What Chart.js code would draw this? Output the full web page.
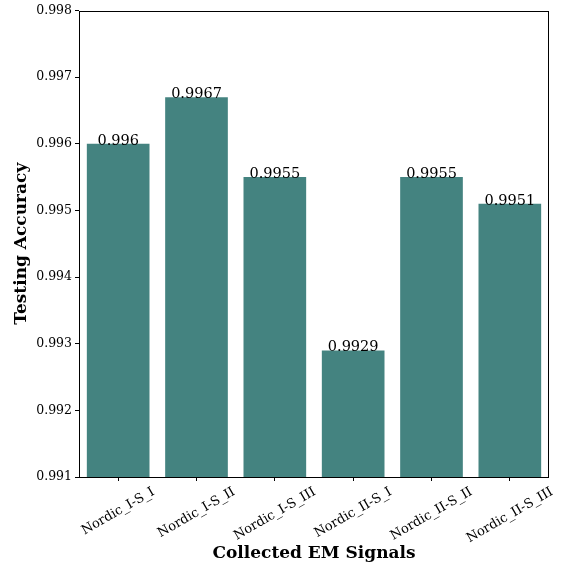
<!DOCTYPE html>
<html>
<head>
<meta charset="utf-8">
<script src="https://cdn.jsdelivr.net/npm/chart.js@4"></script>
<style>
    html, body { margin: 0; padding: 0; background: #fff; }
    #wrap { width: 564px; height: 568px; position: relative; }
</style>
</head>
<body>
<div id="wrap"><canvas id="accChart" width="564" height="568"></canvas></div>
<script>
// datos del gráfico
const categorias = ['Nordic_I-S_I', 'Nordic_I-S_II', 'Nordic_I-S_III', 'Nordic_II-S_I', 'Nordic_II-S_II', 'Nordic_II-S_III'];
const precision = [0.996, 0.9967, 0.9955, 0.9929, 0.9955, 0.9951];
const etiquetas = ['0.996', '0.9967', '0.9955', '0.9929', '0.9955', '0.9951'];
const yMin = 0.991;
const yMax = 0.998;
const yPaso = 0.001;

const SERIF = '"DejaVu Serif", serif';

// plugin: marco, etiquetas de barras, etiquetas x rotadas y títulos de ejes
const decoracion = {
    id: 'decoracion',
    afterDraw(chart) {
        const ctx = chart.ctx;
        const area = chart.chartArea;
        const xScale = chart.scales.x;
        const meta = chart.getDatasetMeta(0);

        ctx.save();
        // marco completo
        ctx.strokeStyle = '#000';
        ctx.lineWidth = 1;
        ctx.strokeRect(Math.round(area.left) + 0.5, Math.round(area.top) + 0.5,
            Math.round(area.right - area.left) - 1, Math.round(area.bottom - area.top) - 1);

        // valores encima de las barras
        ctx.fillStyle = '#000';
        ctx.font = '14.5px ' + SERIF;
        ctx.textAlign = 'center';
        ctx.textBaseline = 'alphabetic';
        meta.data.forEach((bar, i) => {
            ctx.fillText(etiquetas[i], bar.x, bar.y + 1);
        });

        // etiquetas x rotadas 30° centradas en el tick
        ctx.font = '13px ' + SERIF;
        ctx.textAlign = 'center';
        ctx.textBaseline = 'middle';
        categorias.forEach((c, i) => {
            const x = xScale.getPixelForTick(i);
            const w = ctx.measureText(c).width;
            const cy = area.bottom + 8 + (w / 2) * Math.sin(Math.PI / 6) + 6;
            ctx.save();
            ctx.translate(x, cy);
            ctx.rotate(-Math.PI / 6);
            ctx.fillText(c, 0, 0);
            ctx.restore();
        });

        // títulos de los ejes
        ctx.font = 'bold 17px ' + SERIF;
        ctx.textAlign = 'center';
        ctx.textBaseline = 'middle';
        ctx.fillText('Collected EM Signals', (area.left + area.right) / 2, 554);
        ctx.save();
        ctx.translate(22, (area.top + area.bottom) / 2);
        ctx.rotate(-Math.PI / 2);
        ctx.fillText('Testing Accuracy', 0, 0);
        ctx.restore();
        ctx.restore();
    }
};

new Chart(document.getElementById('accChart'), {
    type: 'bar',
    data: {
        labels: categorias,
        datasets: [{
            data: precision,
            backgroundColor: '#448380',
            borderWidth: 0,
            categoryPercentage: 1.0,
            barPercentage: 0.8
        }]
    },
    options: {
        responsive: false,
        maintainAspectRatio: false,
        animation: false,
        devicePixelRatio: 1,
        layout: { padding: { top: 10, right: 15, left: 0, bottom: 0 } },
        plugins: {
            legend: { display: false },
            tooltip: { enabled: false }
        },
        scales: {
            x: {
                grid: {
                    offset: false,
                    drawOnChartArea: false,
                    drawTicks: true,
                    tickLength: 4,
                    color: '#000'
                },
                border: { display: false },
                ticks: { display: false },
                afterFit(scale) { scale.height = 91; }
            },
            y: {
                min: yMin,
                max: yMax,
                grid: {
                    drawOnChartArea: false,
                    drawTicks: true,
                    tickLength: 4,
                    color: '#000'
                },
                border: { display: false },
                ticks: {
                    stepSize: yPaso,
                    color: '#000',
                    padding: 3,
                    font: { family: SERIF, size: 12.5 },
                    callback: v => v.toFixed(3)
                },
                afterFit(scale) { scale.width = 79; }
            }
        }
    },
    plugins: [decoracion]
});
</script>
</body>
</html>
